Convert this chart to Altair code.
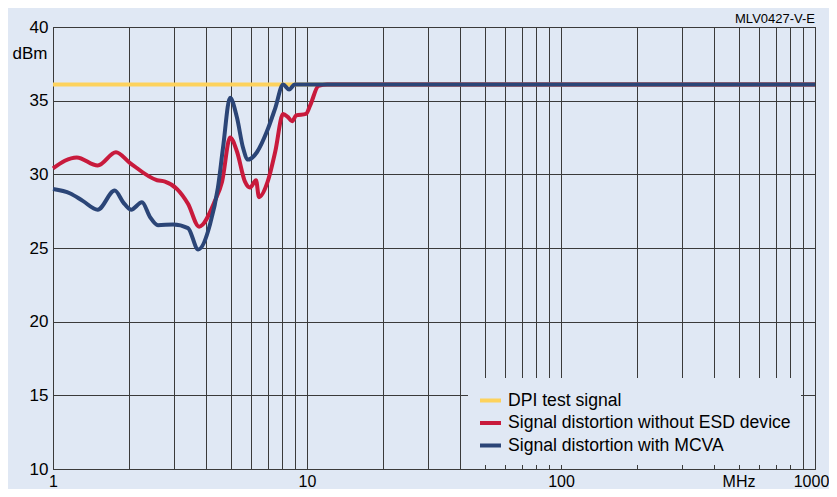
import altair as alt
import pandas as pd

# ---- data ----
series_names = ["DPI test signal",
                "Signal distortion without ESD device",
                "Signal distortion with MCVA"]
series_colors = ["#FDD25C", "#C81A3C", "#2B4577"]

dpi_freq = [1, 1000]
dpi_dbm = [36.1, 36.1]

red_freq = [1.0, 1.24, 1.5, 1.77, 2.0, 2.57, 2.76, 3.08, 3.4, 3.76,
            4.34, 4.63, 4.98, 5.3, 5.7, 5.96, 6.3, 6.47, 7.0, 7.5,
            8.05, 8.4, 8.74, 9.06, 9.9, 10.3, 11.1, 12, 1000]
red_dbm = [30.4, 31.15, 30.6, 31.5, 30.8, 29.6, 29.5, 29.0, 28.0, 26.45,
           28.2, 29.5, 32.5, 31.55, 29.5, 29.1, 29.6, 28.45, 29.5, 31.55,
           34.1, 33.9, 33.6, 34.0, 34.1, 34.7, 36.0, 36.1, 36.1]

blue_freq = [1.0, 1.17, 1.31, 1.5, 1.75, 1.89, 2.03, 2.24, 2.41, 2.59,
             2.97, 3.4, 3.73, 4.15, 4.46, 4.67, 4.98, 5.3, 5.6, 5.86,
             6.35, 6.95, 7.5, 8.05, 8.5, 8.95, 1000]
blue_dbm = [29.0, 28.7, 28.2, 27.6, 28.9, 28.1, 27.6, 28.1, 27.1, 26.55,
            26.6, 26.35, 24.9, 26.6, 29.1, 31.8, 35.2, 33.85, 31.8, 31.0,
            31.5, 32.9, 34.5, 36.1, 35.75, 36.1, 36.1]

x_grid = [1, 2, 3, 4, 5, 6, 7, 8, 9,
          10, 20, 30, 40, 50, 60, 70, 80, 90,
          100, 200, 300, 400, 500, 600, 700, 800, 900, 1000]
y_grid = [10, 15, 20, 25, 30, 35, 40]

# ---- build table ----
rows = []
for name, fs, vs in zip(series_names,
                        [dpi_freq, red_freq, blue_freq],
                        [dpi_dbm, red_dbm, blue_dbm]):
    for f, v in zip(fs, vs):
        rows.append({"series": name, "freq": f, "dbm": v})
df = pd.DataFrame(rows)

FONT = "Liberation Sans"
BG = "#E0E8F4"
GRID = "#3a3a3a"

x_enc = alt.X(
    "freq:Q",
    scale=alt.Scale(type="log", domain=[1, 1000], nice=False),
    axis=alt.Axis(
        values=x_grid, grid=True, gridColor=GRID, gridWidth=1,
        ticks=False, domain=False, title=None, format="d",
        labelFontSize=16, labelFont=FONT, labelColor="black",
        labelPadding=4, labelFlush=False, labelOverlap=False,
        labelOffset={"condition": {"test": "datum.value == 1000", "value": -4}, "value": 0},
        labelExpr="datum.value == 500 ? 'MHz' : ((datum.value == 1 || datum.value == 10 || datum.value == 100 || datum.value == 1000) ? datum.label : '')",
    ),
)
y_enc = alt.Y(
    "dbm:Q",
    scale=alt.Scale(domain=[10, 40], nice=False),
    axis=alt.Axis(
        values=y_grid, grid=True, gridColor=GRID, gridWidth=1,
        ticks=False, domain=False,
        labelFontSize=17, labelFont=FONT, labelColor="black", labelPadding=5,
        title="dBm", titleAngle=0, titleX=-6, titleY=26,
        titleAlign="right", titleBaseline="middle",
        titleFontSize=17, titleFont=FONT, titleFontWeight="normal",
        titleColor="black",
    ),
)
color_enc = alt.Color(
    "series:N",
    scale=alt.Scale(domain=series_names, range=series_colors),
    legend=alt.Legend(
        title=None, orient="none", legendX=415, legendY=351,
        symbolType="stroke", symbolStrokeWidth=4, symbolSize=441,
        labelFontSize=17.6, labelFont=FONT, labelColor="black",
        labelOffset=5,
        fillColor=BG, padding=10, rowPadding=0.5, labelLimit=400,
    ),
)

base = alt.Chart(df).mark_line(strokeWidth=4, interpolate="monotone").encode(
    x=x_enc, y=y_enc, color=color_enc
)

layers = [base.transform_filter(alt.datum.series == n) for n in series_names]

chart = alt.layer(*layers).properties(
    width=762,
    height=442,
    background=BG,
    padding={"left": 45, "top": 19, "right": 14, "bottom": 20},
    autosize=alt.AutoSizeParams(type="none"),
    title=alt.TitleParams(
        "MLV0427-V-E", anchor="end", frame="group", fontSize=13,
        fontWeight="normal", font=FONT, color="black",
        baseline="bottom", offset=5, dy=26,
    ),
).configure_view(stroke="#222", strokeWidth=1)

chart.save("out.html", embed_options={"renderer": "svg", "actions": False})
